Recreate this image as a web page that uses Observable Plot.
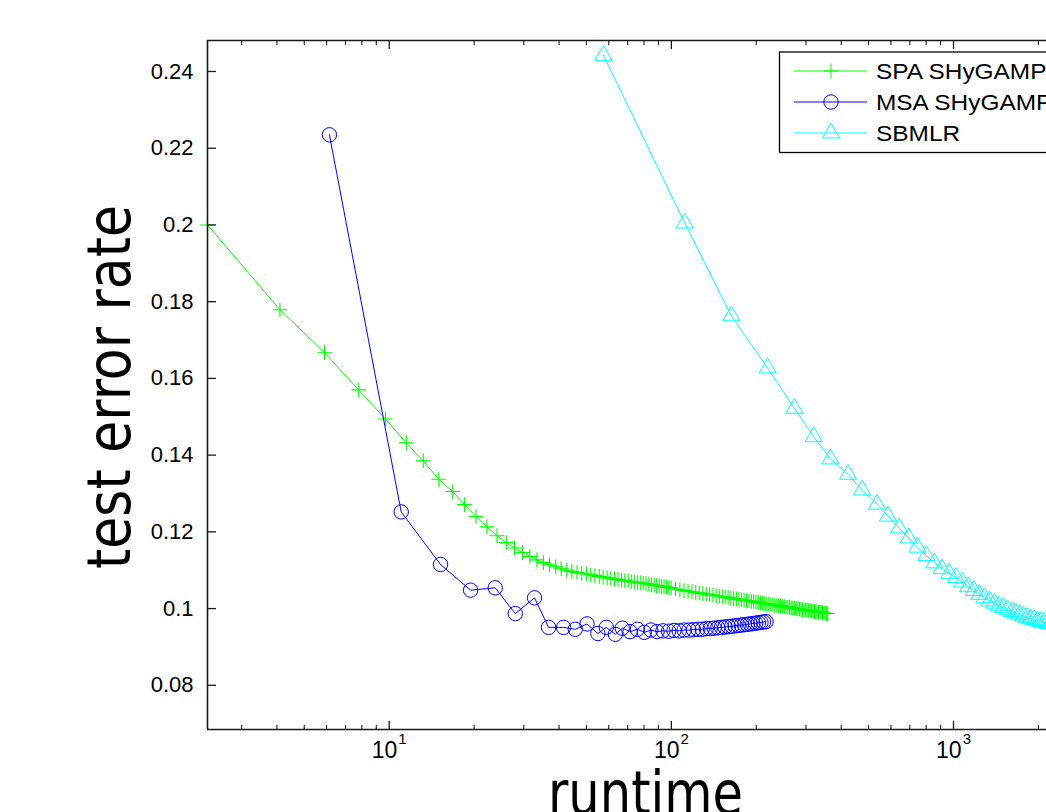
<!DOCTYPE html>
<html><head><meta charset="utf-8">
<script src="https://cdn.jsdelivr.net/npm/d3@7"></script>
<script src="https://cdn.jsdelivr.net/npm/@observablehq/plot@0.6"></script>
<style>
html,body{margin:0;padding:0;background:#fff;overflow:hidden;}
#wrap{position:relative;width:1046px;height:812px;overflow:hidden;}
</style></head><body><div id="wrap"></div>
<script>
// ---- data ----
const seriesNames = ["SPA SHyGAMP", "MSA SHyGAMP", "SBMLR"];
const seriesColors = ["#00ff00", "#0000ff", "#00ffff"];

const spaX = [2.27, 4.1, 5.9, 7.8, 9.7, 11.5, 13.2, 15.0, 16.8, 18.5,
  20.3, 22.2, 24.1, 26.0, 27.8, 29.7, 31.5, 33.4, 35.2, 37.0,
  38.9, 40.7, 42.6, 44.4, 46.3, 48.1, 50.0, 51.8, 53.6, 55.5,
  57.3, 59.2, 61.0, 62.9, 64.7, 66.6, 68.4, 70.3, 72.1, 73.9,
  75.8, 77.6, 79.5, 81.3, 83.2, 85.0, 86.9, 88.7, 90.6, 92.4,
  94.2, 96.1, 97.9, 99.8,
  103.5, 107.2, 110.9, 114.6, 118.3, 122.0, 125.6, 129.3, 133.0, 136.7,
  140.4, 144.1, 147.8, 151.5, 155.2, 158.9, 162.6, 166.3, 170.0, 173.6,
  177.3, 181.0, 184.7, 188.4, 192.1, 195.8, 199.5, 203.2, 206.9, 210.6,
  214.3, 218.0, 221.6, 225.3, 229.0, 232.7, 236.4, 240.1, 243.8, 247.5,
  251.2, 254.9, 258.6, 262.3, 266.0, 269.6, 273.3, 277.0, 280.7, 284.4,
  288.1, 291.8, 295.5, 299.2, 302.9, 306.6, 310.3, 314.0, 317.6, 321.3,
  325.0, 328.7, 332.4, 336.1, 339.8, 343.5, 347.2, 350.9, 354.6, 358.3];
const spaY = [0.2000, 0.1779, 0.1667, 0.1570, 0.1494, 0.1432, 0.1385, 0.1337, 0.1305, 0.1271,
  0.1240, 0.1213, 0.1190, 0.1172, 0.1158, 0.1146, 0.1136, 0.1127, 0.1120, 0.1114,
  0.1109, 0.1104, 0.1100, 0.1097, 0.1094, 0.1092, 0.1090, 0.1088, 0.1086, 0.1084,
  0.1082, 0.1080, 0.1079, 0.1077, 0.1076, 0.1074, 0.1073, 0.1072, 0.1070, 0.1069,
  0.1068, 0.1067, 0.1066, 0.1065, 0.1064, 0.1062, 0.1061, 0.1060, 0.1059, 0.1058,
  0.1057, 0.1056, 0.1055, 0.1054,
  0.1051, 0.1049, 0.1047, 0.1045, 0.1044, 0.1042, 0.1041, 0.1039, 0.1038, 0.1036,
  0.1035, 0.1034, 0.1032, 0.1031, 0.1030, 0.1029, 0.1027, 0.1026, 0.1025, 0.1024,
  0.1023, 0.1022, 0.1021, 0.1020, 0.1019, 0.1018, 0.1017, 0.1016, 0.1015, 0.1014,
  0.1013, 0.1012, 0.1012, 0.1011, 0.1010, 0.1009, 0.1008, 0.1007, 0.1007, 0.1006,
  0.1005, 0.1004, 0.1004, 0.1003, 0.1002, 0.1001, 0.1001, 0.1000, 0.0999, 0.0999,
  0.0998, 0.0997, 0.0997, 0.0996, 0.0996, 0.0995, 0.0994, 0.0994, 0.0993, 0.0992,
  0.0992, 0.0991, 0.0991, 0.0990, 0.0990, 0.0989, 0.0989, 0.0988, 0.0987, 0.0987];

const msaX = [6.14, 11.03, 15.2, 19.43, 23.76, 27.98, 32.74, 36.72, 41.5, 45.66,
  50.24, 54.9, 58.8, 63.3, 67.0,
  71.4, 75.8, 80.2, 84.6, 89.0, 93.4, 97.8, 102.2, 106.6, 111.0,
  115.4, 119.8, 124.2, 128.6, 133.0, 137.4, 141.8, 146.2, 150.6, 155.0,
  159.4, 163.8, 168.2, 172.6, 177.0, 181.4, 185.8, 190.2, 194.6, 199.0,
  203.4, 207.8, 212.2, 216.6];
const msaY = [0.2235, 0.1252, 0.1115, 0.1048, 0.1054, 0.0987, 0.1028, 0.0951, 0.0951, 0.0946,
  0.0960, 0.0935, 0.0951, 0.0933, 0.0949,
  0.0940, 0.0946, 0.0938, 0.0944, 0.0940, 0.0942, 0.0941, 0.0943, 0.0942, 0.0944,
  0.0944, 0.0945, 0.0946, 0.0946, 0.0948, 0.0948, 0.0949, 0.0950, 0.0951, 0.0952,
  0.0953, 0.0954, 0.0955, 0.0956, 0.0957, 0.0958, 0.0959, 0.0960, 0.0961, 0.0962,
  0.0963, 0.0964, 0.0965, 0.0966];

const sbmlrX = [57.5, 111.5, 163.2, 219.5, 273.0, 319.6, 366.3, 423.0, 474.6, 536.0,
  586.0, 642.0, 694.0, 745.0, 802.0, 856.0, 909.0, 966.0,
  1020, 1074, 1127, 1181, 1234, 1288, 1342, 1395, 1449, 1502,
  1556, 1610, 1663, 1717, 1770, 1824, 1878, 1931, 1985, 2038,
  2092, 2146, 2199];
const sbmlrY = [0.2442, 0.2005, 0.1763, 0.1627, 0.1522, 0.1448, 0.1390, 0.1350, 0.1309, 0.1272,
  0.1241, 0.1210, 0.1184, 0.1160, 0.1138, 0.1119, 0.1104, 0.1092,
  0.1081, 0.1069, 0.1057, 0.1047, 0.1037, 0.1028, 0.1020, 0.1014, 0.1007, 0.1002,
  0.0997, 0.0992, 0.0988, 0.0984, 0.0980, 0.0977, 0.0973, 0.0971, 0.0968, 0.0966,
  0.0964, 0.0962, 0.0960];

const yTicks = [0.08, 0.1, 0.12, 0.14, 0.16, 0.18, 0.2, 0.22, 0.24];
const yTickLabels = ["0.08", "0.1", "0.12", "0.14", "0.16", "0.18", "0.2", "0.22", "0.24"];
const xMajorTicks = [10, 100, 1000];
const xTickBase = ["10", "10", "10"];
const xTickExp = ["1", "2", "3"];
const xMinorTicks = [3, 4, 5, 6, 7, 8, 9, 20, 30, 40, 50, 60, 70, 80, 90,
  200, 300, 400, 500, 600, 700, 800, 900, 2000];
const xDomain = [2.27, 2136];
const yDomain = [0.06848, 0.24808];
const xLabel = "runtime";
const yLabel = "test error rate";

// ---- build ----
const zip = (xs, ys) => xs.slice(0, Math.min(xs.length, ys.length)).map((x, i) => ({x, y: ys[i]}));
const spa = zip(spaX, spaY), msa = zip(msaX, msaY), sbmlr = zip(sbmlrX, sbmlrY);
const axisColor = "#1a1a1a";
const tickFont = "Liberation Sans, Arial, Helvetica, sans-serif";

const plot = Plot.plot({
  width: 1046, height: 812,
  marginLeft: 207, marginRight: 0, marginTop: 40, marginBottom: 83,
  style: {fontFamily: tickFont, fontSize: "22px", color: "#000", background: "#fff", overflow: "hidden"},
  x: {type: "log", domain: xDomain, axis: null},
  y: {domain: yDomain, axis: null},
  marks: [
    Plot.line(spa, {x: "x", y: "y", stroke: seriesColors[0], strokeWidth: 1}),
    Plot.dot(spa, {x: "x", y: "y", symbol: "plus", r: 4.8, stroke: seriesColors[0], strokeWidth: 1.1}),
    Plot.line(msa, {x: "x", y: "y", stroke: seriesColors[1], strokeWidth: 1}),
    Plot.dot(msa, {x: "x", y: "y", symbol: "circle", r: 7.2, fill: "none", stroke: seriesColors[1], strokeWidth: 1}),
    Plot.line(sbmlr, {x: "x", y: "y", stroke: seriesColors[2], strokeWidth: 1}),
    Plot.dot(sbmlr, {x: "x", y: "y", symbol: "triangle2", r: 8.2, fill: "none", stroke: seriesColors[2], strokeWidth: 1}),
    Plot.ruleX([xDomain[0]], {stroke: axisColor, strokeWidth: 1.6}),
    Plot.ruleY([yDomain[0], yDomain[1]], {stroke: axisColor, strokeWidth: 1.6}),
    Plot.axisY(yTicks, {anchor: "left", tickSize: -9, tickPadding: 23, stroke: axisColor, strokeWidth: 1.3,
      tickFormat: d => yTickLabels[yTicks.indexOf(d)], label: null, fontSize: 22, fill: "#000"}),
    Plot.axisX(xMajorTicks, {anchor: "bottom", tickSize: -8, tickPadding: 20, stroke: axisColor, strokeWidth: 1.3,
      tickFormat: d => xTickBase[xMajorTicks.indexOf(d)] + xTickExp[xMajorTicks.indexOf(d)], label: null, fontSize: 23, fill: "#000"}),
    Plot.axisX(xMajorTicks, {anchor: "top", tickSize: -8, stroke: axisColor, strokeWidth: 1.3, tickFormat: () => "", label: null}),
    Plot.axisX(xMinorTicks, {anchor: "bottom", tickSize: -4, stroke: axisColor, strokeWidth: 1.1, tickFormat: () => "", label: null}),
    Plot.axisX(xMinorTicks, {anchor: "top", tickSize: -4, stroke: axisColor, strokeWidth: 1.1, tickFormat: () => "", label: null})
  ]
});
document.getElementById("wrap").appendChild(plot);

const svg = d3.select(plot);

// superscript exponents on the x tick labels
svg.selectAll('g[aria-label="x-axis tick label"] text').each(function() {
  const t = d3.select(this);
  const s = t.text();
  const i = xTickBase.findIndex((b, k) => b + xTickExp[k] === s);
  if (i < 0) return;
  t.text("");
  t.append("tspan").text(xTickBase[i]);
  t.append("tspan").attr("font-size", 15).attr("dy", "-0.95em").attr("dx", "1").text(xTickExp[i]);
});

// axis titles
svg.append("text")
  .attr("transform", "translate(130,387) rotate(-90)")
  .attr("text-anchor", "middle")
  .attr("font-family", "DejaVu Sans")
  .attr("font-size", 60)
  .attr("textLength", 364).attr("lengthAdjust", "spacingAndGlyphs")
  .attr("fill", "#000")
  .text(yLabel);
svg.append("text")
  .attr("x", 645.5).attr("y", 814)
  .attr("text-anchor", "middle")
  .attr("font-family", "DejaVu Sans")
  .attr("font-size", 60)
  .attr("textLength", 195).attr("lengthAdjust", "spacingAndGlyphs")
  .attr("fill", "#000")
  .text(xLabel);

// legend
const symbols = [d3.symbolPlus, d3.symbolCircle, d3.symbolTriangle2];
const symR = [4.8, 7.2, 8.2];
const lg = svg.append("g");
lg.append("rect").attr("x", 779.5).attr("y", 52).attr("width", 400).attr("height", 100.5)
  .attr("fill", "#fff").attr("stroke", "#000").attr("stroke-width", 1.3);
const rowsY = [71, 102, 133];
seriesNames.forEach((name, i) => {
  const g = lg.append("g");
  g.append("line").attr("x1", 794).attr("x2", 867).attr("y1", rowsY[i]).attr("y2", rowsY[i])
    .attr("stroke", seriesColors[i]).attr("stroke-width", 1);
  g.append("path").attr("transform", `translate(831,${rowsY[i]})`)
    .attr("d", d3.symbol(symbols[i], Math.PI * symR[i] * symR[i])())
    .attr("fill", "none").attr("stroke", seriesColors[i]).attr("stroke-width", 1);
  g.append("text").attr("transform", `translate(876,${rowsY[i] + 8}) scale(1.11,1)`)
    .attr("text-anchor", "start")
    .attr("font-family", tickFont).attr("font-size", 22).attr("fill", "#000")
    .text(name);
});
</script></body></html>
